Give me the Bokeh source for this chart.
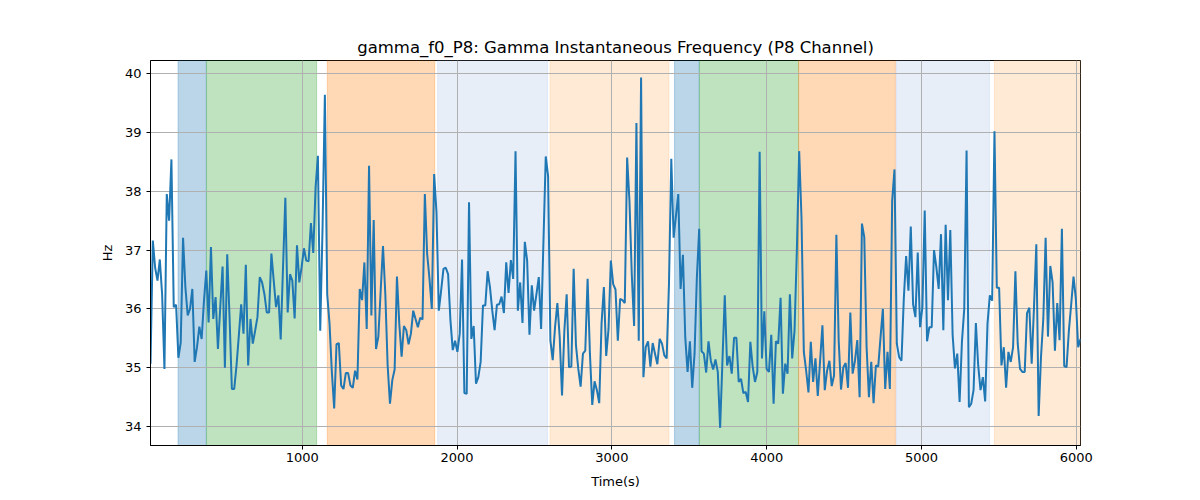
import numpy as np
from bokeh.plotting import figure
from bokeh.models import FixedTicker, ColumnDataSource, Range1d
from bokeh.embed import file_html
from bokeh.resources import INLINE

title = "gamma_f0_P8: Gamma Instantaneous Frequency (P8 Channel)"
x_label = "Time(s)"
y_label = "Hz"

t_start = 20.0
t_end = 6027.0

freq_hz = [
    35.07, 37.16, 36.7, 36.48, 36.84, 36.25, 34.98, 37.95, 37.5, 38.54,
    36.03, 36.07, 35.17, 35.43, 37.21, 36.37, 35.89, 36.0, 36.34, 35.1,
    35.35, 35.7, 35.49, 36.14, 36.65, 35.77, 37.05, 35.83, 36.2, 35.32,
    36.03, 36.72, 35.0, 36.93, 35.86, 34.64, 34.64, 35.04, 35.55, 36.08,
    35.58, 36.75, 35.04, 35.83, 35.41,
    35.63, 35.86, 36.54, 36.45, 36.25, 35.94, 35.94, 36.94, 36.48, 36.03,
    36.23, 35.48, 36.71, 37.89, 35.94, 36.59, 36.48, 35.84, 37.08, 36.45,
    36.71, 37.03, 36.82, 36.81, 37.46, 36.95, 38.06, 38.6, 35.63, 37.38,
    39.64, 36.25, 35.75, 34.93, 34.31, 35.4, 35.42, 34.7, 34.64, 34.91,
    34.91, 34.7, 34.66, 34.95, 34.8, 36.34,
    36.15, 36.79, 35.66, 38.43, 35.89, 37.51, 35.32, 35.53, 36.31, 37.07,
    36.25, 35.04, 34.39, 34.79, 34.97, 36.55, 35.75, 35.19, 35.71, 35.64,
    35.4, 35.58, 35.97, 35.83, 35.69, 35.85, 35.82, 37.95, 36.93, 36.51,
    36.0, 38.29, 37.64, 35.97, 36.31, 36.68, 36.7, 36.59, 35.81, 35.3,
    35.46, 35.27, 35.58, 36.84, 34.57, 34.56,
    37.81, 35.49, 35.71, 34.73, 34.84, 35.1, 36.06, 36.06, 36.64, 36.37,
    35.97, 35.64, 36.07, 36.08, 36.21, 35.93, 36.79, 36.27, 36.83, 36.51,
    38.68, 35.97, 36.45, 35.76, 37.14, 36.82, 35.56, 36.4, 35.97, 36.25,
    36.54, 35.66, 37.13, 38.59, 38.26, 35.46, 35.13, 35.69, 36.1, 35.52,
    34.53, 35.63, 36.25, 35.01, 35.02, 36.68,
    35.38, 34.98, 34.68, 35.24, 35.29, 36.51, 35.24, 34.37, 34.77, 34.62,
    34.4, 35.75, 36.37, 35.2, 35.66, 36.82, 36.42, 36.33, 35.46, 36.17,
    36.15, 36.1, 38.57, 37.84, 36.59, 35.71, 39.16, 35.46, 39.93, 34.84,
    35.35, 35.45, 35.02, 35.42, 35.24, 35.06, 35.49, 35.41, 35.21, 35.16,
    36.42, 38.55, 37.21, 37.58, 37.95,
    36.34, 36.92, 35.52, 34.93, 35.45, 34.66, 35.24, 36.54, 37.36, 35.28,
    35.24, 34.92, 35.45, 35.12, 34.97, 35.14, 34.93, 33.98, 35.12, 36.23,
    35.04, 35.2, 34.9, 35.51, 35.51, 34.76, 34.81, 34.57, 34.59, 34.42,
    35.44, 35.02, 34.76, 34.93, 38.67, 35.16, 35.96, 34.98, 34.93, 35.56,
    34.39, 35.45, 35.41, 36.19, 34.56, 35.07,
    34.9, 36.25, 35.16, 35.63, 36.99, 38.68, 37.55, 35.27, 34.95, 34.58,
    35.44, 34.76, 35.16, 34.52, 35.12, 35.72, 34.62, 34.95, 35.12, 34.69,
    34.87, 37.26, 35.46, 34.63, 35.01, 35.08, 34.66, 35.94, 34.9, 35.12,
    35.47, 34.5, 37.45, 37.22, 35.35, 34.5, 35.1, 34.4, 35.04, 35.02,
    35.52, 36.0, 34.64, 35.27, 34.64,
    37.84, 38.37, 35.41, 35.18, 35.12, 36.17, 36.9, 36.31, 37.4, 36.08,
    35.86, 36.96, 35.69, 36.03, 37.67, 35.45, 35.69, 35.69, 37.0, 36.71,
    36.34, 37.27, 35.64, 37.43, 36.15, 37.34, 35.56, 34.99, 35.24, 34.42,
    35.44, 36.0, 38.69, 34.33, 34.39, 34.62, 35.76, 35.04, 34.62, 34.84,
    34.43, 35.75, 36.23, 36.14, 39.02, 36.36,
    36.36, 35.04, 35.35, 34.66, 35.27, 35.1, 35.35, 36.64, 35.41, 34.98,
    34.93, 34.93, 35.93, 36.02, 35.07, 36.03, 37.1, 34.18, 35.18, 35.83,
    37.21, 35.53, 36.73, 36.45, 35.29, 36.1, 35.47, 37.36, 35.03, 35.01,
    35.63, 36.08, 36.55, 36.17, 35.35, 35.49,
]

# sampling grid of the series (uniform time steps)
time_s = np.linspace(t_start, t_end, len(freq_hz))

span_start = [198, 382, 1162, 1875, 2601, 3405, 3566, 4206, 4836, 5471]
span_end = [380, 1093, 1856, 2584, 3368, 3564, 4206, 4831, 5439, 6027]
span_phase = ["blue", "green", "orange", "lightblue", "lightorange",
              "blue", "green", "orange", "lightblue", "lightorange"]

phase_colors = {
    "blue": "#1f77b4",
    "green": "#2ca02c",
    "orange": "#ff7f0e",
    "lightblue": "#aec7e8",
    "lightorange": "#ffbb78",
}

x_ticks = [1000, 2000, 3000, 4000, 5000, 6000]
y_ticks = [34, 35, 36, 37, 38, 39, 40]

p = figure(
    width=1184, height=484,
    output_backend="svg", toolbar_location=None,
    x_range=Range1d(t_start, t_end), y_range=Range1d(33.68, 40.22),
    min_border_left=150, min_border_right=104,
    min_border_top=60, min_border_bottom=39,
)
p.frame_width = 930
p.frame_height = 385

p.title.text = title
p.title.align = "center"
p.title.text_font = "DejaVu Sans"
p.title.text_font_size = "16.5px"
p.title.text_font_style = "normal"
p.title.text_color = "black"
p.title.standoff = 7

span_src = ColumnDataSource(dict(
    left=span_start, right=span_end,
    color=[phase_colors[k] for k in span_phase],
))
p.quad(left="left", right="right", bottom=33.0, top=41.0, source=span_src,
       fill_color="color", fill_alpha=0.3, line_color="color", line_alpha=0.3,
       line_width=1, level="image")

p.line(time_s, freq_hz, line_color="#1f77b4", line_width=2)

p.xaxis.ticker = FixedTicker(ticks=x_ticks)
p.yaxis.ticker = FixedTicker(ticks=y_ticks)
p.xaxis.axis_label = x_label
p.yaxis.axis_label = y_label

for ax in (p.xaxis[0], p.yaxis[0]):
    ax.axis_label_text_font = "DejaVu Sans"
    ax.axis_label_text_font_size = "13px"
    ax.axis_label_text_font_style = "normal"
    ax.axis_label_text_color = "black"
    ax.major_label_text_font = "DejaVu Sans"
    ax.major_label_text_font_size = "13px"
    ax.major_label_text_color = "black"
    ax.major_tick_out = 4
    ax.major_tick_in = 0
    ax.minor_tick_out = 0
    ax.minor_tick_in = 0
    ax.axis_line_color = "black"
    ax.major_tick_line_color = "black"
    ax.major_label_standoff = 3
p.xaxis[0].axis_label_standoff = 9
p.yaxis[0].axis_label_standoff = 7
p.yaxis[0].major_label_standoff = 5

p.grid.grid_line_color = "#b0b0b0"
p.grid.grid_line_width = 1
p.grid.grid_line_alpha = 1.0
p.outline_line_color = "black"
p.outline_line_width = 1
p.outline_line_alpha = 1.0
p.background_fill_color = "white"
p.border_fill_color = "white"

open("out.html", "w").write(file_html(p, INLINE))
